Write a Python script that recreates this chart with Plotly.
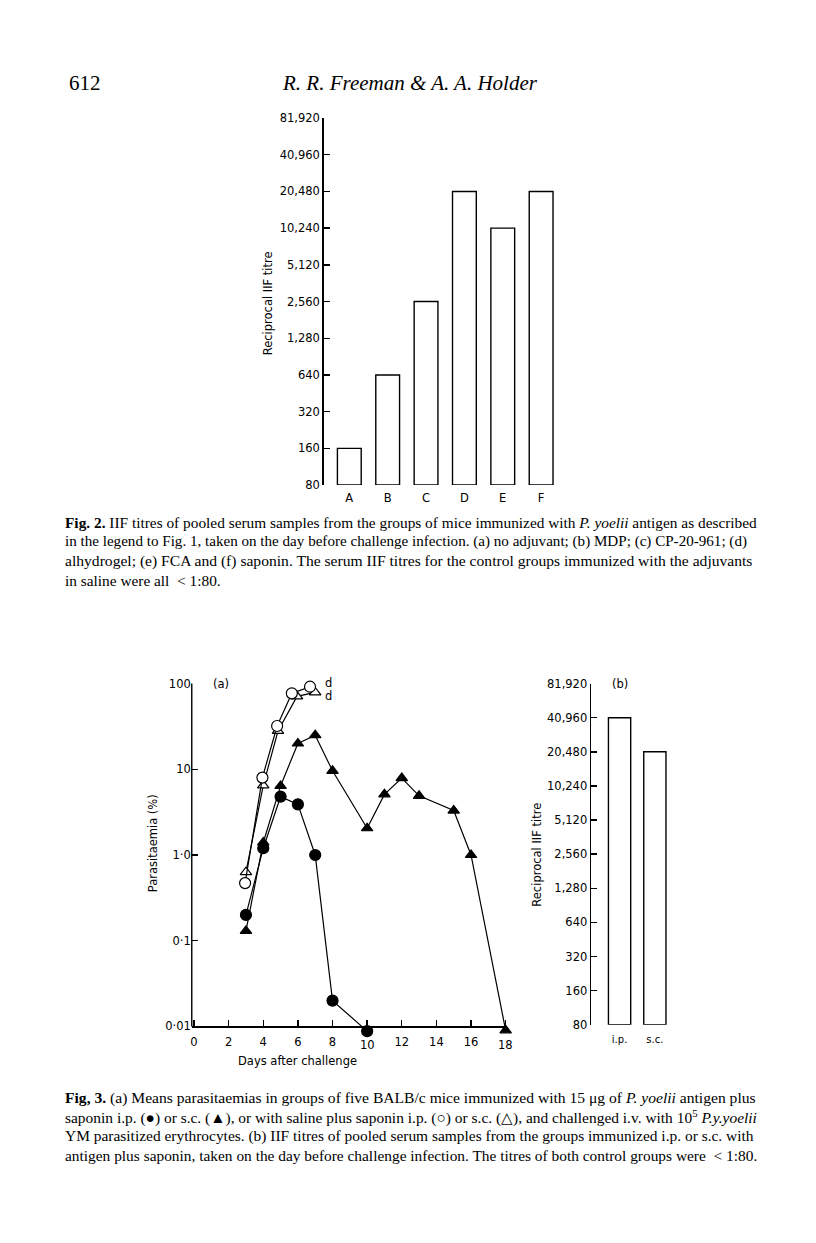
import plotly.graph_objects as go
import math

W, H = 816, 1243
def px(x): return x / W
def py(y): return 1 - y / H

# ---------------- data ----------------
# Fig. 2 : IIF titres per adjuvant group
fig2_groups = ["A", "B", "C", "D", "E", "F"]
fig2_titres = [160, 640, 2560, 20480, 10240, 20480]

titre_ticks = [80, 160, 320, 640, 1280, 2560, 5120, 10240, 20480, 40960, 81920]
titre_labels = ["80", "160", "320", "640", "1,280", "2,560", "5,120",
                "10,240", "20,480", "40,960", "81,920"]

# Fig. 3a : parasitaemia (%) vs days after challenge
days_ip_antigen = [3, 4, 5, 6, 7, 8, 10]
para_ip_antigen = [0.2, 1.2, 4.8, 3.9, 1.0, 0.02, 0.0088]

days_sc_antigen = [3, 4, 5, 6, 7, 8, 10, 11, 12, 13, 15, 16, 18]
para_sc_antigen = [0.13, 1.4, 6.4, 20, 25, 9.6, 2.05, 5.1, 7.9, 4.9, 3.3, 1.0, 0.009]

days_ip_saline = [2.95, 3.95, 4.8, 5.65, 6.7]
para_ip_saline = [0.47, 8.0, 32, 77, 92]

days_sc_saline = [3, 4, 4.85, 5.95, 7]
para_sc_saline = [0.63, 6.5, 28, 71, 79]

para_ticks = [0.01, 0.1, 1, 10, 100]
para_labels = ["0·01", "0·1", "1·0", "10", "100"]
day_ticks = [0, 2, 4, 6, 8, 12, 14, 16]
day_labels = ["0", "2", "4", "6", "8", "12", "14", "16"]
day_ticks_low = [10, 18]          # labels drawn lower, below the markers

# Fig. 3b : IIF titres by route
fig3b_routes = ["i.p.", "s.c."]
fig3b_titres = [40960, 20480]

# ---------------- figure ----------------
SANS = "DejaVu Sans"
SERIF = "Liberation Serif"
tickfont = dict(family=SANS, size=11.5, color="black")
LW = 1.4

fig = go.Figure()

bar_style = dict(marker=dict(color="white", line=dict(color="black", width=LW)),
                 showlegend=False, hoverinfo="skip")

fig.add_trace(go.Bar(x=fig2_groups, y=[v - 80 for v in fig2_titres], base=80,
                     width=0.62, xaxis="x", yaxis="y", **bar_style))

fig.add_trace(go.Bar(x=fig3b_routes, y=[v - 80 for v in fig3b_titres], base=80,
                     width=0.63, xaxis="x3", yaxis="y3", **bar_style))

def series(xs, ys, symbol, fill):
    fig.add_trace(go.Scatter(
        x=xs, y=ys, mode="lines+markers", xaxis="x2", yaxis="y2",
        line=dict(color="black", width=1.2),
        marker=dict(symbol=symbol, size=11 if symbol == "circle" else 10,
                    color=fill, line=dict(color="black", width=1.2)),
        cliponaxis=False, showlegend=False, hoverinfo="skip"))

series(days_sc_saline, para_sc_saline, "triangle-up", "white")
series(days_ip_saline, para_ip_saline, "circle", "white")
series(days_sc_antigen, para_sc_antigen, "triangle-up", "black")
series(days_ip_antigen, para_ip_antigen, "circle", "black")

axis_common = dict(showgrid=False, zeroline=False, color="black",
                   linecolor="black", linewidth=LW, tickfont=tickfont,
                   ticks="inside", ticklen=6, tickwidth=LW, tickcolor="black",
                   fixedrange=True)

# y-scale of Fig 3a: 100 at y=684.3px, 0.01 at y=1031px ; extend a little below 0.01
dec_px = (1031 - 684.3) / 4.0
y3a_bottom_px = 1040
y3a_low = -2 - (y3a_bottom_px - 1031) / dec_px

fig.update_layout(
    width=W, height=H, margin=dict(l=0, r=0, t=0, b=0),
    paper_bgcolor="white", plot_bgcolor="rgba(0,0,0,0)",
    bargap=0,
    xaxis=dict(domain=[px(323), px(560)], range=[-0.67, 5.5], anchor="y",
               showline=False, ticks="", tickfont=tickfont, showgrid=False,
               zeroline=False, type="category", ticklabelstandoff=4),
    yaxis=dict(domain=[py(483.5), py(112.3)], type="log",
               range=[math.log10(80), math.log10(81920)], anchor="x",
               showline=True, tickmode="array", tickvals=titre_ticks,
               ticktext=titre_labels, **axis_common),
    xaxis2=dict(domain=[px(191), px(507)], range=[-0.13, 18.1], anchor="free",
                position=py(1031), showline=True, tickmode="array",
                tickvals=day_ticks, ticktext=day_labels, ticklabelstandoff=4,
                minor=dict(tickmode="array", tickvals=day_ticks_low, ticks="inside",
                           ticklen=6, tickwidth=LW, tickcolor="black", showgrid=False),
                **axis_common),
    yaxis2=dict(domain=[py(y3a_bottom_px), py(684.3)], type="log", range=[y3a_low, 2],
                anchor="x2", showline=False, tickmode="array",
                tickvals=para_ticks, ticktext=para_labels, **axis_common),
    xaxis3=dict(domain=[px(590.7), px(690)], range=[-0.81, 2.0], anchor="y3",
                showline=False, ticks="", tickfont=dict(family=SANS, size=10, color="black"),
                showgrid=False, zeroline=False, type="category", ticklabelstandoff=7),
    yaxis3=dict(domain=[py(1029.3), py(684.3)], type="log",
                range=[math.log10(80), math.log10(81920)], anchor="x3",
                showline=True, tickmode="array", tickvals=titre_ticks,
                ticktext=titre_labels, **axis_common),
)

# vertical axis line of Fig 3a from 0.01 up to 100 (frame only)
fig.add_shape(type="line", xref="paper", yref="paper",
              x0=px(191), x1=px(191), y0=py(1031), y1=py(684.3),
              line=dict(color="black", width=LW))

ann = []
def text(x, y, s, size=11, family=SANS, xanchor="center", yanchor="middle", angle=0):
    ann.append(dict(x=px(x), y=py(y), xref="paper", yref="paper", text=s,
                    showarrow=False, xanchor=xanchor, yanchor=yanchor,
                    textangle=angle, font=dict(family=family, size=size, color="black")))

# header
text(66, 77, "612", size=21, family=SERIF, xanchor="left")
text(410, 77, "<i>R. R. Freeman &amp; A. A. Holder</i>", size=21, family=SERIF)

# axis titles and labels
text(267, 300, "Reciprocal IIF titre", size=11.5, angle=-90)
text(153, 846, "Parasitaemia (%)", size=11.5, angle=-90)
text(297, 1066, "Days after challenge", size=11.5)
for d in day_ticks_low:
    text(191 + (d + 0.13) * (316 / 18.23), 1050, str(d), size=11.5)
text(220, 685, "(a)", size=11.5)
text(620, 685, "(b)", size=11.5)
text(328, 684, "d", size=11.5)
text(328, 697, "d", size=11.5)
text(537, 857, "Reciprocal IIF titre", size=11.5, angle=-90)

# captions (each line sized so that it fills the justified measure)
cap2 = [
    ("<b>Fig. 2.</b> IIF titres of pooled serum samples from the groups of mice immunized with <i>P. yoelii</i> antigen as described", 15.35),
    ("in the legend to Fig. 1, taken on the day before challenge infection. (a) no adjuvant; (b) MDP; (c) CP-20-961; (d)", 15.1),
    ("alhydrogel; (e) FCA and (f) saponin. The serum IIF titres for the control groups immunized with the adjuvants", 15.6),
    ("in saline were all  &lt; 1:80.", 15.35),
]
for i, (s, sz) in enumerate(cap2):
    text(62, 521 + i * 19.6, s, size=sz, family=SERIF, xanchor="left")

cap3 = [
    ("<b>Fig, 3.</b> (a) Means parasitaemias in groups of five BALB/c mice immunized with 15 μg of <i>P. yoelii</i> antigen plus", 15.6),
    ("saponin i.p. (●) or s.c. (▲), or with saline plus saponin i.p. (○) or s.c. (△), and challenged i.v. with 10<sup>5</sup> <i>P.y.yoelii</i>", 15.45),
    ("YM parasitized erythrocytes. (b) IIF titres of pooled serum samples from the groups immunized i.p. or s.c. with", 15.45),
    ("antigen plus saponin, taken on the day before challenge infection. The titres of both control groups were  &lt; 1:80.", 15.4),
]
for i, (s, sz) in enumerate(cap3):
    text(62, 1103 + i * 19.6, s, size=sz, family=SERIF, xanchor="left")

fig.update_layout(annotations=ann)
fig.write_html("out.html", config={"displayModeBar": False, "staticPlot": True},
               post_script="document.body.style.margin='0px';")
